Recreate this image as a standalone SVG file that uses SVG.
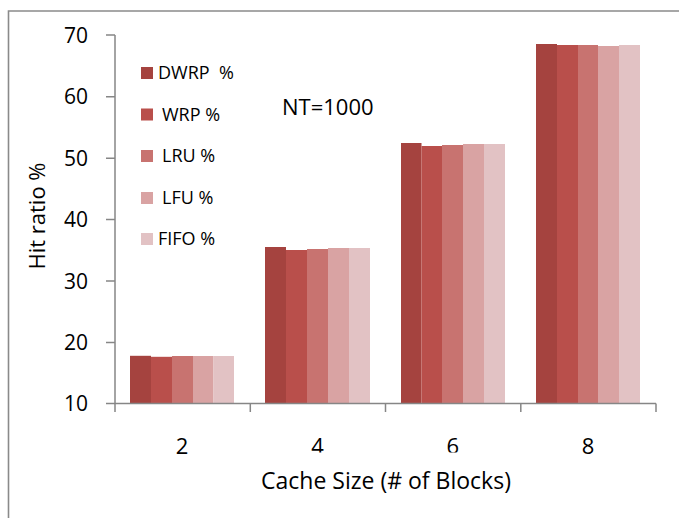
<svg xmlns="http://www.w3.org/2000/svg" width="679" height="518" viewBox="0 0 679 518">
<style>
text{font-family:"Open Sans","Liberation Sans",sans-serif;fill:#000}
.frame{fill:none;stroke:#8a8a8a;stroke-width:1.6}
.ax{fill:none;stroke:#868686;stroke-width:1.5}
.tick{font-size:21px;text-anchor:end}
.cat{font-size:22px;text-anchor:middle}
.leg{font-size:18px;white-space:pre}
.c1{fill:#A5433F}.c2{fill:#B94F4B}.c3{fill:#C87370}.c4{fill:#D9A3A3}.c5{fill:#E2C2C4}
</style>
<rect x="0" y="0" width="679" height="518" fill="#fff"/>
<path class="frame" d="M8.5,518 V11 H679"/>
<g id="bars">
<g id="g2">
<rect class="c1" x="130" y="355.8" width="21" height="47.7"/>
<rect class="c2" x="151" y="356.8" width="21" height="46.7"/>
<rect class="c3" x="172" y="356" width="21" height="47.5"/>
<rect class="c4" x="193" y="356" width="20.5" height="47.5"/>
<rect class="c5" x="213.5" y="356" width="20.5" height="47.5"/>
</g>
<g id="g4">
<rect class="c1" x="265" y="247" width="21" height="156.5"/>
<rect class="c2" x="286" y="250" width="21" height="153.5"/>
<rect class="c3" x="307" y="249" width="21" height="154.5"/>
<rect class="c4" x="328" y="248" width="21" height="155.5"/>
<rect class="c5" x="349" y="248" width="21" height="155.5"/>
</g>
<g id="g6">
<rect class="c1" x="401" y="143" width="20.5" height="260.5"/>
<rect class="c2" x="421.5" y="146" width="20.5" height="257.5"/>
<rect class="c3" x="442" y="145" width="21" height="258.5"/>
<rect class="c4" x="463" y="144" width="21" height="259.5"/>
<rect class="c5" x="484" y="144" width="21" height="259.5"/>
</g>
<g id="g8">
<rect class="c1" x="536" y="44" width="21" height="359.5"/>
<rect class="c2" x="557" y="45" width="21" height="358.5"/>
<rect class="c3" x="578" y="45" width="20" height="358.5"/>
<rect class="c4" x="598" y="46" width="21" height="357.5"/>
<rect class="c5" x="619" y="45" width="21" height="358.5"/>
</g>
</g>
<g id="axes">
<path class="ax" d="M115,35 V403.5 H656"/>
<path class="ax" d="M106,35 H115 M106,96.7 H115 M106,158.2 H115 M106,219.6 H115 M106,281.1 H115 M106,342.5 H115 M106,403.5 H115"/>
<path class="ax" d="M115,403.5 V412 M250.3,403.5 V412 M385.5,403.5 V412 M520.8,403.5 V412 M656,403.5 V412"/>
</g>
<g id="yticks">
<text class="tick" x="88" y="42.5">70</text>
<text class="tick" x="88" y="104">60</text>
<text class="tick" x="88" y="165.5">50</text>
<text class="tick" x="88" y="227">40</text>
<text class="tick" x="88" y="288.5">30</text>
<text class="tick" x="88" y="350">20</text>
<text class="tick" x="88" y="411">10</text>
</g>
<g id="xticks">
<text class="cat" x="182" y="454">2</text>
<text class="cat" x="317.5" y="454">4</text>
<text class="cat" x="452.8" y="454">6</text>
<text class="cat" x="588" y="454">8</text>
</g>
<g id="xtitle">
<rect x="258" y="452.5" width="257" height="44" fill="#fff"/>
<text x="386" y="489" font-size="23" text-anchor="middle">Cache Size (# of Blocks)</text>
</g>
<g id="ytitle">
<text transform="translate(45,216) rotate(-90)" font-size="22" text-anchor="middle">Hit ratio %</text>
</g>
<g id="nt">
<text x="282" y="115" font-size="22">NT=1000</text>
</g>
<g id="legend">
<rect class="c1" x="141" y="67" width="12" height="12"/>
<text class="leg" x="158" y="79">DWRP  %</text>
<rect class="c2" x="141" y="108.5" width="12" height="12"/>
<text class="leg" x="162" y="120.5">WRP %</text>
<rect class="c3" x="141" y="150" width="12" height="12"/>
<text class="leg" x="162" y="162">LRU %</text>
<rect class="c4" x="141" y="192" width="12" height="12"/>
<text class="leg" x="162" y="204">LFU %</text>
<rect class="c5" x="141" y="233" width="12" height="12"/>
<text class="leg" x="158" y="245">FIFO %</text>
</g>
</svg>
